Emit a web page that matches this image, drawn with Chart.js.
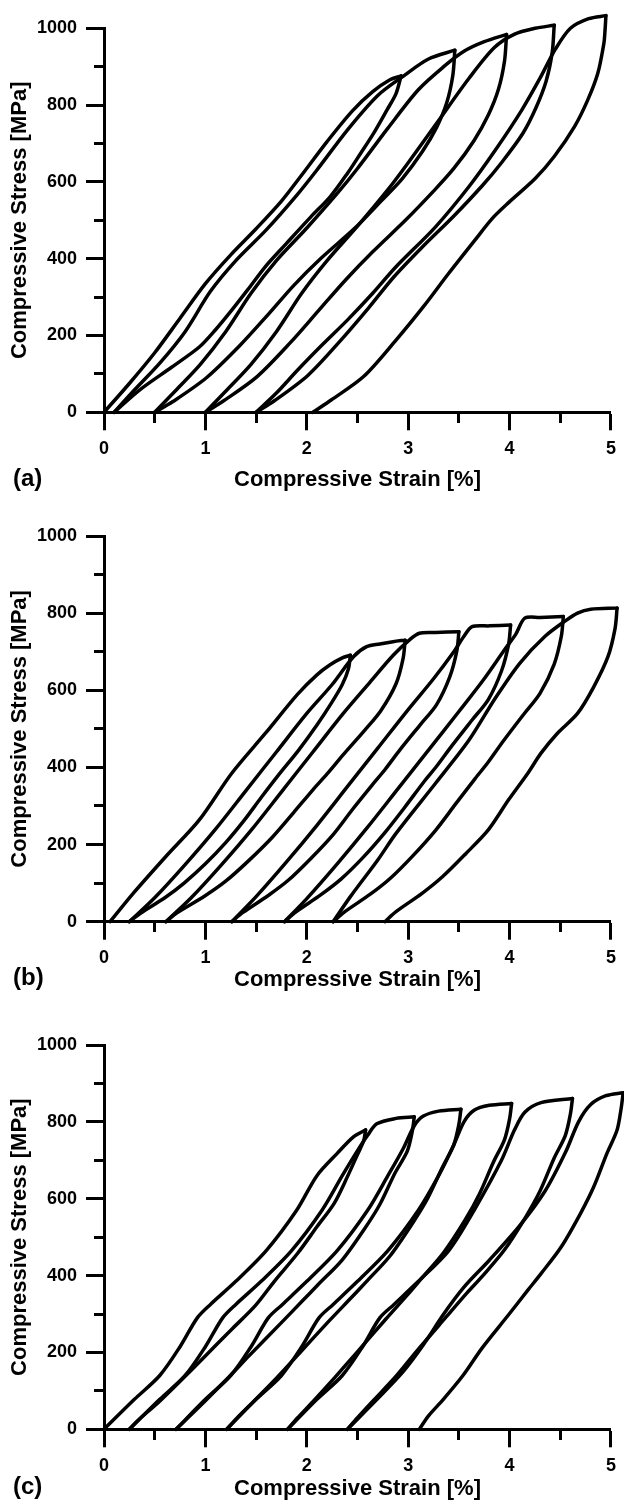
<!DOCTYPE html>
<html>
<head>
<meta charset="utf-8">
<script src="https://cdn.jsdelivr.net/npm/chart.js@4.4.1/dist/chart.umd.min.js"></script>
<style>
  html, body { margin: 0; padding: 0; background: #fff; }
  body { width: 624px; height: 1502px; position: relative; overflow: hidden; }
  canvas { position: absolute; left: 0; }
  .tag { position: absolute; left: 13px; font: bold 24px "Liberation Sans", Arial, sans-serif; line-height: 24px; color: #000; }
</style>
</head>
<body>
<canvas id="chartA" width="624" height="500" style="top:0px"></canvas>
<canvas id="chartB" width="624" height="505" style="top:500px"></canvas>
<canvas id="chartC" width="624" height="497" style="top:1005px"></canvas>
<div class="tag" style="top:466px">(a)</div>
<div class="tag" style="top:965px">(b)</div>
<div class="tag" style="top:1474px">(c)</div>
<script>
// Axis labels
const strainLabels = [0, 1, 2, 3, 4, 5];
const stressLabels = [0, 200, 400, 600, 800, 1000];
const xTitle = 'Compressive Strain [%]';
const yTitle = 'Compressive Stress [MPa]';

// ---- (a) loading / unloading cycles: [strain %, stress MPa] ----
const aLoad1 = [[0,0],[0.25,75],[0.5,155],[0.75,245],[1.0,335],[1.25,410],[1.5,478],[1.75,550],[1.95,618],[2.2,705],[2.45,785],[2.65,835],[2.82,866],[2.93,876]];
const aUnload1 = [[2.93,876],[2.88,830],[2.79,787],[2.66,727],[2.53,674],[2.4,622],[2.23,561],[2.04,509],[1.8,440],[1.59,379],[1.42,320],[1.26,266],[1.1,215],[0.94,170],[0.67,118],[0.35,58],[0.1,0]];
const aLoad2 = [[0.1,0],[0.3,58],[0.55,128],[0.8,210],[1.05,315],[1.3,395],[1.6,475],[1.9,565],[2.1,631],[2.4,735],[2.7,825],[2.95,875],[3.2,920],[3.46,943]];
const aUnload2 = [[3.46,943],[3.44,877],[3.38,806],[3.28,742],[3.14,679],[2.94,608],[2.74,552],[2.48,481],[2.14,401],[1.87,330],[1.62,255],[1.34,174],[1.01,90],[0.68,28],[0.5,0]];
const aLoad3 = [[0.5,0],[0.7,55],[0.95,125],[1.2,210],[1.45,310],[1.7,395],[2.0,480],[2.3,570],[2.5,635],[2.8,740],[3.1,840],[3.35,900],[3.55,940],[3.75,965],[3.97,984]];
const aUnload3 = [[3.97,984],[3.95,915],[3.89,841],[3.79,774],[3.65,708],[3.45,635],[3.25,576],[2.98,502],[2.65,418],[2.38,344],[2.12,266],[1.84,182],[1.51,93],[1.18,30],[1.0,0]];
const aLoad4 = [[1.0,0],[1.2,55],[1.45,125],[1.7,210],[1.95,310],[2.2,395],[2.5,485],[2.8,580],[3.0,650],[3.3,760],[3.6,870],[3.85,950],[4.05,985],[4.25,1000],[4.44,1008]];
const aUnload4 = [[4.44,1008],[4.42,937],[4.36,862],[4.26,793],[4.13,726],[3.92,650],[3.73,590],[3.46,514],[3.13,428],[2.86,353],[2.61,272],[2.33,186],[2.01,96],[1.68,30],[1.5,0]];
const aLoad5 = [[1.5,0],[1.7,50],[1.91,110],[2.15,175],[2.4,240],[2.65,310],[2.88,379],[3.27,483],[3.6,588],[3.86,683],[4.12,787],[4.3,870],[4.45,945],[4.6,1000],[4.78,1025],[4.95,1033]];
const aUnload5 = [[4.95,1033],[4.94,990],[4.93,961],[4.87,883],[4.77,813],[4.64,744],[4.44,666],[4.25,608],[3.99,546],[3.83,505],[3.66,449],[3.4,362],[3.15,275],[2.88,188],[2.56,93],[2.24,32],[2.06,0]];

// ---- (b) ----
const bLoad1 = [[0.06,0],[0.29,74],[0.61,169],[0.94,264],[1.26,385],[1.59,488],[1.91,590],[2.1,640],[2.23,666],[2.35,684],[2.43,691]];
const bUnload1 = [[2.43,691],[2.41,655],[2.35,615],[2.25,570],[2.1,510],[1.92,445],[1.72,380],[1.55,322],[1.38,262],[1.2,205],[1.0,150],[0.79,100],[0.6,62],[0.36,22],[0.25,0]];
const bLoad2 = [[0.25,0],[0.5,62],[0.8,148],[1.1,240],[1.4,340],[1.7,440],[2.0,540],[2.25,615],[2.46,687],[2.59,713],[2.72,720],[2.85,726],[2.97,730]];
const bUnload2 = [[2.97,730],[2.95,683],[2.88,617],[2.73,547],[2.57,496],[2.36,433],[2.2,383],[2.06,342],[1.87,283],[1.66,219],[1.43,159],[1.2,105],[0.99,66],[0.72,23],[0.61,0]];
const bLoad3 = [[0.61,0],[0.86,62],[1.16,148],[1.46,240],[1.76,340],[2.06,440],[2.36,540],[2.62,620],[2.85,690],[3.01,730],[3.11,748],[3.27,750],[3.5,752]];
const bUnload3 = [[3.5,752],[3.48,703],[3.41,635],[3.28,563],[3.12,511],[2.92,446],[2.77,394],[2.64,353],[2.45,291],[2.26,226],[2.04,164],[1.82,108],[1.62,68],[1.37,24],[1.26,0]];
const bLoad4 = [[1.26,0],[1.5,65],[1.8,155],[2.1,250],[2.4,350],[2.7,450],[3.0,550],[3.25,630],[3.45,700],[3.55,740],[3.63,765],[3.8,767],[4.01,769]];
const bUnload4 = [[4.01,769],[3.99,719],[3.92,650],[3.79,576],[3.63,523],[3.43,456],[3.28,403],[3.15,361],[2.97,298],[2.77,231],[2.56,168],[2.34,111],[2.14,70],[1.89,25],[1.78,0]];
const bLoad5 = [[1.78,0],[2.0,60],[2.3,150],[2.6,245],[2.9,345],[3.2,445],[3.5,545],[3.75,630],[3.95,705],[4.06,745],[4.15,787],[4.3,789],[4.53,791]];
const bUnload5 = [[4.53,791],[4.51,740],[4.44,668],[4.3,592],[4.14,538],[3.94,469],[3.79,414],[3.66,371],[3.47,306],[3.27,237],[3.05,172],[2.83,114],[2.63,72],[2.37,25],[2.26,0]];
const bLoad6 = [[2.26,0],[2.43,65],[2.7,160],[2.88,229],[3.27,359],[3.6,471],[3.86,580],[4.1,670],[4.35,740],[4.55,780],[4.67,800],[4.8,810],[5.06,813]];
const bUnload6 = [[5.06,813],[5.04,760],[4.97,687],[4.83,609],[4.67,540],[4.47,488],[4.31,437],[4.18,385],[3.99,316],[3.79,238],[3.57,177],[3.34,117],[3.14,74],[2.88,26],[2.77,0]];

// ---- (c) ----
const cLoad1 = [[0,0],[0.3,78],[0.55,140],[0.75,215],[0.92,290],[1.05,325],[1.3,385],[1.6,465],[1.9,570],[2.1,660],[2.3,718],[2.46,761],[2.58,779]];
const cUnload1 = [[2.58,779],[2.56,750],[2.5,715],[2.4,657],[2.27,588],[2.1,527],[1.91,458],[1.68,385],[1.49,321],[1.27,263],[0.97,183],[0.75,125],[0.52,66],[0.35,27],[0.25,0]];
const cLoad2 = [[0.25,0],[0.55,78],[0.8,140],[1.0,215],[1.17,290],[1.3,325],[1.55,385],[1.85,465],[2.15,570],[2.35,660],[2.5,725],[2.6,765],[2.69,795],[2.88,809],[3.06,813]];
const cUnload2 = [[3.06,813],[3.04,775],[2.99,723],[2.87,667],[2.72,585],[2.57,522],[2.35,441],[2.11,376],[1.96,335],[1.74,275],[1.43,191],[1.21,130],[0.98,69],[0.82,28],[0.71,0]];
const cLoad3 = [[0.71,0],[1.0,78],[1.25,140],[1.45,215],[1.62,290],[1.76,325],[2.0,385],[2.3,465],[2.6,570],[2.8,660],[2.95,730],[3.06,790],[3.15,815],[3.3,828],[3.52,833]];
const cUnload3 = [[3.52,833],[3.5,794],[3.45,741],[3.34,683],[3.19,600],[3.04,535],[2.82,451],[2.59,385],[2.44,343],[2.22,282],[1.92,196],[1.7,133],[1.47,71],[1.31,29],[1.21,0]];
const cLoad4 = [[1.21,0],[1.5,78],[1.75,140],[1.95,215],[2.12,290],[2.26,325],[2.5,385],[2.8,465],[3.1,570],[3.3,660],[3.45,740],[3.55,800],[3.65,830],[3.8,843],[4.02,848]];
const cUnload4 = [[4.02,848],[4.0,808],[3.95,754],[3.84,695],[3.7,611],[3.56,544],[3.35,460],[3.13,392],[2.99,349],[2.78,287],[2.49,199],[2.28,136],[2.06,72],[1.91,30],[1.81,0]];
const cLoad5 = [[1.81,0],[2.1,78],[2.35,140],[2.55,215],[2.72,290],[2.86,325],[3.1,385],[3.4,465],[3.65,570],[3.92,700],[4.05,780],[4.15,825],[4.31,850],[4.62,861]];
const cUnload5 = [[4.62,861],[4.6,821],[4.55,765],[4.44,706],[4.3,620],[4.16,553],[3.95,467],[3.73,398],[3.58,355],[3.37,291],[3.08,202],[2.88,138],[2.65,73],[2.5,30],[2.4,0]];
const cLoad6 = [[2.4,0],[2.7,80],[2.95,150],[3.15,220],[3.35,300],[3.55,370],[3.8,440],[4.1,530],[4.35,620],[4.55,720],[4.68,800],[4.8,845],[4.95,868],[5.12,876]];
const cUnload6 = [[5.12,876],[5.1,835],[5.06,779],[4.96,718],[4.83,631],[4.7,562],[4.51,475],[4.31,405],[4.18,362],[3.99,298],[3.73,212],[3.54,140],[3.34,76],[3.2,35],[3.11,0]];

const panelA = [aLoad1, aUnload1, aLoad2, aUnload2, aLoad3, aUnload3, aLoad4, aUnload4, aLoad5, aUnload5];
const panelB = [bLoad1, bUnload1, bLoad2, bUnload2, bLoad3, bUnload3, bLoad4, bUnload4, bLoad5, bUnload5, bLoad6, bUnload6];
const panelC = [cLoad1, cUnload1, cLoad2, cUnload2, cLoad3, cUnload3, cLoad4, cUnload4, cLoad5, cUnload5, cLoad6, cUnload6];

const FONT = '"Liberation Sans", Arial, Helvetica, sans-serif';

function buildChart(id, curves, frame) {
  const datasets = curves.map(pts => ({
    data: pts,
    showLine: true,
    borderColor: '#000',
    borderWidth: 3.5,
    pointRadius: 0,
    tension: 0.3,
    fill: false,
    clip: false,
    borderJoinStyle: 'round',
    borderCapStyle: 'round'
  }));
  return new Chart(document.getElementById(id), {
    type: 'scatter',
    data: { datasets },
    options: {
      responsive: false,
      animation: false,
      events: [],
      layout: { padding: { top: frame.top, right: 7, bottom: 0, left: 0 } },
      elements: { line: { capBezierPoints: false } },
      plugins: { legend: { display: false }, tooltip: { enabled: false } },
      scales: {
        x: {
          type: 'linear',
          min: 0, max: 5,
          afterFit: s => { s.height = frame.xAxisHeight; },
          border: { display: true, width: 3, color: '#000' },
          grid: {
            drawOnChartArea: false,
            tickLength: 18,
            tickWidth: 3,
            tickColor: '#000',
            tickBorderDash: c => (c.tick && Number.isInteger(c.tick.value)) ? [] : [9, 100]
          },
          ticks: {
            stepSize: 0.5,
            autoSkip: false,
            maxRotation: 0,
            padding: 8,
            color: '#000',
            font: { family: FONT, weight: 'bold', size: 18 },
            callback: v => strainLabels.includes(v) ? String(v) : ''
          },
          title: {
            display: true,
            text: xTitle,
            color: '#000',
            font: { family: FONT, weight: 'bold', size: 22 },
            padding: { top: 0, bottom: frame.titlePad }
          }
        },
        y: {
          type: 'linear',
          min: 0, max: 1000,
          afterFit: s => { s.width = 104; },
          border: { display: true, width: 3, color: '#000' },
          grid: {
            drawOnChartArea: false,
            tickLength: 18,
            tickWidth: 3,
            tickColor: '#000',
            tickBorderDash: c => (c.tick && c.tick.value % 200 === 0) ? [] : [0, 8, 10, 100]
          },
          ticks: {
            stepSize: 100,
            autoSkip: false,
            padding: 9,
            color: '#000',
            font: { family: FONT, weight: 'bold', size: 18 },
            callback: v => stressLabels.includes(v) ? String(v) : ''
          },
          title: {
            display: true,
            text: yTitle,
            color: '#000',
            font: { family: FONT, weight: 'bold', size: 22 },
            padding: { top: 7, bottom: 0 }
          }
        }
      }
    }
  });
}

buildChart('chartA', panelA, { top: 28.3, xAxisHeight: 87.7, titlePad: 7 });
buildChart('chartB', panelB, { top: 36, xAxisHeight: 83.3, titlePad: 12 });
buildChart('chartC', panelC, { top: 40, xAxisHeight: 72.7, titlePad: 0 });
</script>
</body>
</html>
